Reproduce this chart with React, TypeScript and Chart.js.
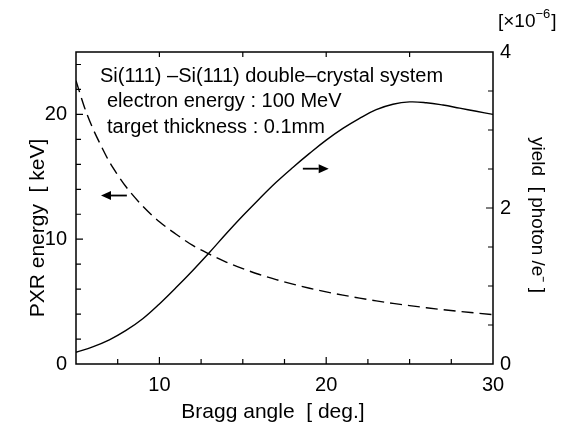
import { useEffect, useRef } from "react";
import { Chart, registerables } from "chart.js";

Chart.register(...registerables);

// Bragg angle (deg) grid for the PXR energy curve (left axis, keV)
const energyAngles = [5, 5.5, 6, 6.5, 7, 7.5, 8, 9, 10, 11, 12, 13, 14, 15, 16, 17, 18, 19, 20, 21, 22, 23, 24, 25, 26, 27, 28, 29, 30];
const pxrEnergy = [22.7, 20.6, 18.9, 17.5, 16.2, 15.15, 14.2, 12.65, 11.4, 10.4, 9.5, 8.8, 8.17, 7.64, 7.17, 6.76, 6.4, 6.07, 5.78, 5.52, 5.28, 5.06, 4.86, 4.68, 4.51, 4.35, 4.21, 4.08, 3.95];

// Bragg angle (deg) grid for the yield curve (right axis, x10^-6 photon/e-)
const yieldAngles = [5, 6, 7, 8, 9, 10, 11, 12, 13, 14, 15, 16, 17, 18, 19, 20, 21, 22, 23, 24, 25, 26, 27, 28, 29, 30];
const yieldValues = [0.15, 0.22, 0.31, 0.43, 0.58, 0.77, 0.98, 1.2, 1.43, 1.67, 1.9, 2.12, 2.33, 2.52, 2.7, 2.87, 3.02, 3.15, 3.26, 3.33, 3.36, 3.35, 3.32, 3.28, 3.24, 3.2];

// Tick labels
const xTickLabels = [10, 20, 30];
const leftTickLabels = [0, 10, 20];
const rightTickLabels = [0, 2, 4];

// Minor tick marks
const xBottomTicks = [7.5, 10, 12.5, 15, 17.5, 20, 22.5, 25, 27.5];
const xTopTicks = [10, 15, 20, 25];
const leftTicks = [2, 4, 6, 8, 10, 12, 14, 16, 18, 20, 22, 24];
const rightTicks = [0.5, 1, 1.5, 2, 2.5, 3, 3.5];

const annotationLines = [
  "Si(111) \u2013Si(111) double\u2013crystal system",
  "electron energy : 100 MeV",
  "target thickness : 0.1mm",
];

// Arrows in data coordinates (x: deg, y: left axis keV)
const leftArrow = { from: 8.05, to: 6.5, y: 13.5 };
const rightArrow = { from: 18.6, to: 20.15, y: 15.65 };

const FONT = "'Liberation Sans', Arial, Helvetica, sans-serif";

const decorPlugin = {
  id: "decor",
  afterDraw(chart: any) {
    const ctx = chart.ctx as CanvasRenderingContext2D;
    const { left, right, top, bottom } = chart.chartArea;
    const xs = chart.scales.x;
    const ys = chart.scales.y;
    const y1 = chart.scales.y1;
    ctx.save();
    ctx.strokeStyle = "#000";
    ctx.fillStyle = "#000";
    ctx.lineWidth = 1.5;
    ctx.strokeRect(left, top, right - left, bottom - top);

    ctx.lineWidth = 1.2;
    const minor = 5;
    const major = 7;
    ctx.beginPath();
    for (const v of xBottomTicks) {
      const px = xs.getPixelForValue(v);
      const len = v % 10 === 0 ? major : minor;
      ctx.moveTo(px, bottom);
      ctx.lineTo(px, bottom - len);
    }
    for (const v of xTopTicks) {
      const px = xs.getPixelForValue(v);
      ctx.moveTo(px, top);
      ctx.lineTo(px, top + minor);
    }
    for (const v of leftTicks) {
      const py = ys.getPixelForValue(v);
      const len = v % 10 === 0 ? major : minor;
      ctx.moveTo(left, py);
      ctx.lineTo(left + len, py);
    }
    for (const v of rightTicks) {
      const py = y1.getPixelForValue(v);
      const len = v % 2 === 0 ? major : minor;
      ctx.moveTo(right, py);
      ctx.lineTo(right - len, py);
    }
    ctx.stroke();

    // annotation text
    ctx.font = `20px ${FONT}`;
    ctx.textAlign = "left";
    ctx.textBaseline = "alphabetic";
    ctx.fillText(annotationLines[0], left + 24, top + 30);
    ctx.fillText(annotationLines[1], left + 31, top + 55);
    ctx.fillText(annotationLines[2], left + 31, top + 81);

    // arrows
    const drawArrow = (a: { from: number; to: number; y: number }) => {
      const x0 = xs.getPixelForValue(a.from);
      const x1 = xs.getPixelForValue(a.to);
      const py = ys.getPixelForValue(a.y);
      const dir = Math.sign(x1 - x0);
      const head = 10;
      ctx.lineWidth = 1.8;
      ctx.beginPath();
      ctx.moveTo(x0, py);
      ctx.lineTo(x1 - dir * head, py);
      ctx.stroke();
      ctx.beginPath();
      ctx.moveTo(x1, py);
      ctx.lineTo(x1 - dir * head, py - 4.5);
      ctx.lineTo(x1 - dir * head, py + 4.5);
      ctx.closePath();
      ctx.fill();
    };
    drawArrow(leftArrow);
    drawArrow(rightArrow);

    // axis titles
    ctx.font = `21px ${FONT}`;
    ctx.textAlign = "center";
    ctx.fillText("Bragg angle  [ deg.]", left + 197, bottom + 54);

    ctx.save();
    ctx.translate(44, 228);
    ctx.rotate(-Math.PI / 2);
    ctx.fillText("PXR energy  [ keV]", 0, 0);
    ctx.restore();

    ctx.save();
    ctx.font = `19px ${FONT}`;
    ctx.translate(532, 215);
    ctx.rotate(Math.PI / 2);
    ctx.fillText("yield  [ photon /e\u207B ]", 0, 0);
    ctx.restore();

    // multiplier label
    ctx.textAlign = "left";
    let x = 498;
    const base = 27;
    ctx.font = `19px ${FONT}`;
    const t1 = "[\u00D710";
    ctx.fillText(t1, x, base);
    x += ctx.measureText(t1).width;
    ctx.font = `13px ${FONT}`;
    const t2 = "\u22126";
    ctx.fillText(t2, x, base - 9);
    x += ctx.measureText(t2).width + 1;
    ctx.font = `19px ${FONT}`;
    ctx.fillText("]", x, base);

    ctx.restore();
  },
};

export default function App() {
  const ref = useRef<HTMLCanvasElement | null>(null);

  useEffect(() => {
    if (!ref.current) return;
    const tickFont = { family: FONT, size: 20 };
    const noGrid = { display: false, drawTicks: false };
    const chart = new Chart(ref.current, {
      type: "line",
      data: {
        datasets: [
          {
            label: "PXR energy",
            data: energyAngles.map((a, i) => ({ x: a, y: pxrEnergy[i] })),
            yAxisID: "y",
            borderColor: "#000",
            borderWidth: 1.4,
            borderDash: [12, 6],
            pointRadius: 0,
            cubicInterpolationMode: "monotone",
            fill: false,
          },
          {
            label: "yield",
            data: yieldAngles.map((a, i) => ({ x: a, y: yieldValues[i] })),
            yAxisID: "y1",
            borderColor: "#000",
            borderWidth: 1.4,
            pointRadius: 0,
            tension: 0.4,
            fill: false,
          },
        ],
      },
      options: {
        responsive: false,
        animation: false,
        layout: { padding: { top: 52, left: 0, right: 0, bottom: 0 } },
        plugins: { legend: { display: false }, tooltip: { enabled: false } },
        scales: {
          x: {
            type: "linear",
            position: "bottom",
            min: 5,
            max: 30,
            grid: noGrid,
            border: { display: false },
            ticks: { font: tickFont, color: "#000", padding: 9, maxRotation: 0, autoSkip: false },
            afterBuildTicks: (s: any) => {
              s.ticks = xTickLabels.map((v) => ({ value: v }));
            },
            afterFit: (s: any) => {
              s.height = 62;
            },
          },
          y: {
            type: "linear",
            position: "left",
            min: 0,
            max: 25,
            grid: noGrid,
            border: { display: false },
            ticks: { font: tickFont, color: "#000", padding: 9, autoSkip: false },
            afterBuildTicks: (s: any) => {
              s.ticks = leftTickLabels.map((v) => ({ value: v }));
            },
            afterFit: (s: any) => {
              s.width = 76;
            },
          },
          y1: {
            type: "linear",
            position: "right",
            min: 0,
            max: 4,
            grid: noGrid,
            border: { display: false },
            ticks: { font: tickFont, color: "#000", padding: 7, autoSkip: false },
            afterBuildTicks: (s: any) => {
              s.ticks = rightTickLabels.map((v) => ({ value: v }));
            },
            afterFit: (s: any) => {
              s.width = 81;
            },
          },
        },
      } as any,
      plugins: [decorPlugin],
    });
    return () => chart.destroy();
  }, []);

  return (
    <div style={{ position: "absolute", left: 0, top: 0, width: 574, height: 426, background: "#fff" }}>
      <canvas ref={ref} width={574} height={426} />
    </div>
  );
}
